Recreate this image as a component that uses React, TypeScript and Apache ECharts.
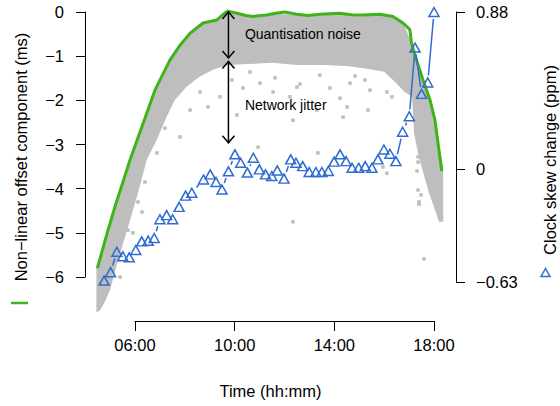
import React, { useEffect, useRef } from 'react';
import * as echarts from 'echarts';

const FONT = '"Liberation Sans", Arial, Helvetica, sans-serif';
const GREEN = '#3fb31a';
const BLUE = '#2f6bd0';
const GREY = '#bebebe';

// ---- Data (time in hours of day) ----
// Upper envelope of the non-linear offset (ms), green line
const offsetTime = [4.49, 4.86, 5.2, 5.8, 6.8, 7.4, 7.81, 8.21, 8.73, 9.29, 9.61, 9.73, 10.1, 10.45, 10.74, 11.28, 11.65, 12.02, 12.49, 12.95, 13.42, 14.2, 14.7, 15.15, 15.83, 16.35, 16.76, 17.03, 17.1, 17.3, 17.56, 17.84, 18.04, 18.31];
const offsetUpper = [-5.8, -5.05, -4.4, -3.35, -1.77, -1.09, -0.75, -0.48, -0.25, -0.18, -0.02, 0.02, -0.03, -0.08, -0.1, -0.07, -0.03, 0.0, -0.05, -0.08, -0.05, -0.03, -0.06, -0.07, -0.05, -0.1, -0.25, -0.4, -0.71, -1.09, -1.54, -1.99, -2.45, -3.6];

// Dense band of offset samples (ms): upper and lower edge
const bandTime = [4.45, 4.6, 4.8, 5.0, 5.32, 5.72, 6.12, 6.47, 6.87, 7.27, 7.6, 8.07, 8.6, 9.13, 9.7, 10.5, 11.5, 12.5, 13.5, 14.5, 15.5, 16.0, 16.47, 16.8, 17.12, 17.2, 17.4, 17.8, 18.05, 18.2, 18.37];
const bandUpper = [-5.75, -5.5, -5.15, -4.77, -4.14, -3.46, -2.83, -2.29, -1.7, -1.2, -0.9, -0.59, -0.3, -0.2, 0.0, -0.08, -0.05, -0.05, -0.05, -0.05, -0.07, -0.06, -0.12, -0.3, -0.72, -0.96, -1.26, -1.93, -2.47, -3.0, -3.5];
const bandLower = [-6.8, -6.75, -6.55, -6.29, -5.61, -4.87, -4.1, -3.35, -2.9, -2.37, -1.99, -1.69, -1.46, -1.31, -1.2, -1.18, -1.15, -1.2, -1.2, -1.22, -1.3, -1.35, -1.6, -1.8, -1.92, -2.75, -3.3, -4.1, -4.5, -4.75, -4.75];

// Sparse offset samples (ms) below the band
const sparseTime = [8.93, 9.41, 7.81, 10.94, 10.33, 11.02, 11.54, 12.22, 12.5, 14.23, 14.51, 15.43, 16.11, 13.3, 14.63, 10.09, 15.35, 12.34, 14.35, 13.34, 16.31, 17.32, 16.11, 15.95, 12.34, 17.6, 17.4, 17.36, 17.36, 17.32, 17.36, 17.48, 17.4, 6.28, 6.12, 5.72, 5.92, 5.4, 6.4, 7.2, 6.88, 11.62, 13.42, 15.23, 10.61, 12.62, 13.82, 14.83, 9.89, 8.61, 8.21];
const sparseValue = [-2.15, -1.92, -2.83, -3.06, -1.72, -1.61, -1.81, -1.92, -1.7, -1.95, -2.15, -1.77, -1.81, -2.22, -1.61, -2.33, -2.22, -2.45, -2.38, -3.19, -1.92, -2.6, -3.65, -3.51, -4.75, -5.59, -4.35, -3.28, -3.4, -3.6, -4.03, -4.14, -4.3, -4.53, -4.3, -4.94, -5.0, -6.0, -3.85, -2.63, -3.19, -1.49, -1.43, -1.54, -1.36, -1.63, -1.72, -1.45, -1.54, -1.81, -2.22];

// Clock skew change (ppm)
const skewTime = [4.76, 5.02, 5.27, 5.51, 5.77, 6.03, 6.27, 6.53, 6.77, 7.0, 7.27, 7.51, 7.77, 8.03, 8.28, 8.75, 9.02, 9.25, 9.49, 9.75, 10.01, 10.24, 10.51, 10.75, 10.99, 11.24, 11.49, 11.71, 11.98, 12.25, 12.46, 12.73, 12.99, 13.26, 13.5, 13.76, 13.99, 14.23, 14.47, 14.71, 14.98, 15.24, 15.51, 15.75, 15.99, 16.23, 16.47, 16.74, 17.01, 17.24, 17.5, 17.75, 18.0];
const skewValue = [-0.622, -0.575, -0.461, -0.486, -0.492, -0.451, -0.403, -0.399, -0.384, -0.279, -0.256, -0.279, -0.21, -0.147, -0.131, -0.057, -0.028, -0.071, -0.113, -0.011, 0.084, 0.037, -0.018, 0.065, 0.0, -0.028, -0.037, -0.006, -0.052, 0.056, 0.037, 0.018, -0.015, -0.015, -0.015, -0.009, 0.043, 0.084, 0.046, 0.009, 0.009, 0.018, 0.009, 0.056, 0.111, 0.087, 0.046, 0.21, 0.297, 0.681, 0.422, 0.486, 0.88];

// Annotation arrows (ms) and labels
const arrowTime = [9.75, 9.75];
const arrowTop = [0.0, -1.12];
const arrowBottom = [-1.04, -2.96];
const annotTime = [10.41, 10.41];
const annotValue = [-0.5, -2.11];
const annotLabels = ['Quantisation noise', 'Network jitter'];

// Ticks
const leftTickValues = [0, -1, -2, -3, -4, -5, -6];
const leftTickLabels = ['0', '\u22121', '\u22122', '\u22123', '\u22124', '\u22125', '\u22126'];
const rightTickValues = [0.88, 0, -0.63];
const rightTickLabels = ['0.88', '0', '\u22120.63'];
const timeTickValues = [6, 10, 14, 18];
const timeTickLabels = ['06:00', '10:00', '14:00', '18:00'];

const X_MIN = 3.993;
const X_MAX = 18.883;

function lookup(values: number[], labels: string[]) {
  return (v: number) => {
    const i = values.findIndex((x) => Math.abs(x - v) < 1e-9);
    return i >= 0 ? labels[i] : '';
  };
}

const axisLineStyle = { color: '#000', width: 1 };
const labelStyle = { color: '#000', fontSize: 16.5, fontFamily: FONT };

function buildOption(): any {
  return {
    animation: false,
    backgroundColor: '#fff',
    grid: [
      { left: 85, top: 12, width: 371, height: 265 },
      { left: 85, top: 12, width: 371, height: 270 },
      { left: 135, top: 300, width: 299, height: 21 },
    ],
    xAxis: [
      { type: 'value', gridIndex: 0, min: X_MIN, max: X_MAX, show: false },
      { type: 'value', gridIndex: 1, min: X_MIN, max: X_MAX, show: false },
      {
        type: 'value', gridIndex: 2, min: 6, max: 18, position: 'bottom',
        axisLine: { show: true, lineStyle: axisLineStyle },
        axisTick: { show: true, length: 10, lineStyle: axisLineStyle, customValues: timeTickValues },
        axisLabel: { ...labelStyle, margin: 15, customValues: timeTickValues, formatter: lookup(timeTickValues, timeTickLabels) },
        splitLine: { show: false },
      },
    ],
    yAxis: [
      {
        type: 'value', gridIndex: 0, min: -6, max: 0, position: 'left',
        axisLine: { show: true, lineStyle: axisLineStyle },
        axisTick: { show: true, length: 9, lineStyle: axisLineStyle, customValues: leftTickValues },
        axisLabel: { ...labelStyle, margin: 21, customValues: leftTickValues, formatter: lookup(leftTickValues, leftTickLabels) },
        splitLine: { show: false },
      },
      {
        type: 'value', gridIndex: 1, min: -0.63, max: 0.88, position: 'right',
        axisLine: { show: true, lineStyle: axisLineStyle },
        axisTick: { show: true, length: 9, lineStyle: axisLineStyle, customValues: rightTickValues },
        axisLabel: { ...labelStyle, margin: 20, customValues: rightTickValues, formatter: lookup(rightTickValues, rightTickLabels) },
        splitLine: { show: false },
      },
      { type: 'value', gridIndex: 2, min: 0, max: 1, show: false },
    ],
    graphic: [
      {
        type: 'text', x: 270.5, y: 391,
        style: { text: 'Time (hh:mm)', fontSize: 16.5, fontFamily: FONT, fill: '#000', align: 'center', verticalAlign: 'middle', textAlign: 'center', textVerticalAlign: 'middle' },
      },
      {
        type: 'text', x: 20.5, y: 157, rotation: Math.PI / 2,
        style: { text: 'Non\u2212linear offset component (ms)', fontSize: 16.5, fontFamily: FONT, fill: '#000', align: 'center', verticalAlign: 'middle', textAlign: 'center', textVerticalAlign: 'middle' },
      },
      {
        type: 'line', shape: { x1: 11, y1: 303, x2: 28, y2: 303 },
        style: { stroke: GREEN, lineWidth: 2.5 },
      },
      {
        type: 'text', x: 549.5, y: 160, rotation: Math.PI / 2,
        style: { text: 'Clock skew change (ppm)', fontSize: 16.5, fontFamily: FONT, fill: '#000', align: 'center', verticalAlign: 'middle', textAlign: 'center', textVerticalAlign: 'middle' },
      },
      {
        type: 'polygon', shape: { points: [[541, 276.5], [550, 276.5], [545.5, 268.5]] },
        style: { stroke: BLUE, fill: 'none', lineWidth: 1.5 },
      },
    ],
    series: [
      {
        type: 'custom', xAxisIndex: 0, yAxisIndex: 0, clip: false, silent: true, z: 1,
        data: [[bandTime[0], bandUpper[0]]],
        renderItem: (_params: any, api: any) => {
          const pts: number[][] = [];
          for (let i = 0; i < bandTime.length; i++) pts.push(api.coord([bandTime[i], bandUpper[i]]));
          for (let i = bandTime.length - 1; i >= 0; i--) pts.push(api.coord([bandTime[i], bandLower[i]]));
          return { type: 'polygon', shape: { points: pts }, style: { fill: GREY, stroke: 'none' } };
        },
      },
      {
        type: 'scatter', xAxisIndex: 0, yAxisIndex: 0, clip: false, silent: true, z: 2,
        symbol: 'rect', symbolSize: 3.5,
        itemStyle: { color: GREY, opacity: 1 },
        data: sparseTime.map((t, i) => [t, sparseValue[i]]),
      },
      {
        type: 'line', xAxisIndex: 0, yAxisIndex: 0, clip: false, silent: true, z: 3,
        showSymbol: false, symbol: 'none',
        lineStyle: { color: GREEN, width: 3 },
        data: offsetTime.map((t, i) => [t, offsetUpper[i]]),
      },
      {
        type: 'custom', xAxisIndex: 1, yAxisIndex: 1, clip: false, silent: true, z: 4,
        data: skewTime.map((t, i) => [t, skewValue[i]]),
        renderItem: (params: any, api: any) => {
          const i = params.dataIndex;
          if (i >= skewTime.length - 1) return { type: 'group', children: [] };
          const p0 = api.coord([skewTime[i], skewValue[i]]);
          const p1 = api.coord([skewTime[i + 1], skewValue[i + 1]]);
          const dx = p1[0] - p0[0];
          const dy = p1[1] - p0[1];
          const d = Math.hypot(dx, dy);
          const gap = 7;
          if (d <= 2 * gap) return { type: 'group', children: [] };
          const ux = dx / d;
          const uy = dy / d;
          return {
            type: 'line',
            shape: { x1: p0[0] + ux * gap, y1: p0[1] + uy * gap, x2: p1[0] - ux * gap, y2: p1[1] - uy * gap },
            style: { stroke: BLUE, lineWidth: 1.5 },
          };
        },
      },
      {
        type: 'scatter', xAxisIndex: 1, yAxisIndex: 1, clip: false, silent: true, z: 5,
        symbol: 'triangle', symbolSize: [10, 9],
        itemStyle: { color: 'rgba(0,0,0,0)', borderColor: BLUE, borderWidth: 1.5, opacity: 1 },
        data: skewTime.map((t, i) => [t, skewValue[i]]),
      },
      {
        type: 'custom', xAxisIndex: 0, yAxisIndex: 0, clip: false, silent: true, z: 6,
        data: arrowTime.map((t, i) => [t, arrowTop[i]]),
        renderItem: (params: any, api: any) => {
          const i = params.dataIndex;
          const top = api.coord([arrowTime[i], arrowTop[i]]);
          const bot = api.coord([arrowTime[i], arrowBottom[i]]);
          const hw = 6;
          const hh = 7;
          const style = { stroke: '#000', lineWidth: 1.5, fill: 'none' };
          return {
            type: 'group',
            children: [
              { type: 'line', shape: { x1: top[0], y1: top[1], x2: bot[0], y2: bot[1] }, style },
              { type: 'polyline', shape: { points: [[top[0] - hw, top[1] + hh], [top[0], top[1]], [top[0] + hw, top[1] + hh]] }, style },
              { type: 'polyline', shape: { points: [[bot[0] - hw, bot[1] - hh], [bot[0], bot[1]], [bot[0] + hw, bot[1] - hh]] }, style },
            ],
          };
        },
      },
      {
        type: 'custom', xAxisIndex: 0, yAxisIndex: 0, clip: false, silent: true, z: 6,
        data: annotTime.map((t, i) => [t, annotValue[i]]),
        renderItem: (params: any, api: any) => {
          const i = params.dataIndex;
          const p = api.coord([annotTime[i], annotValue[i]]);
          return {
            type: 'text',
            x: p[0], y: p[1],
            style: { text: annotLabels[i], fontSize: 14, fontFamily: FONT, fill: '#000', align: 'left', verticalAlign: 'middle' },
          };
        },
      },
    ],
  };
}

export default function App() {
  const ref = useRef<HTMLDivElement>(null);
  useEffect(() => {
    if (!ref.current) return;
    const chart = echarts.init(ref.current, null, { renderer: 'svg' });
    chart.setOption(buildOption());
    return () => chart.dispose();
  }, []);
  return (
    <div
      ref={ref}
      style={{ position: 'fixed', left: 0, top: 0, width: 560, height: 406, background: '#fff' }}
    />
  );
}
